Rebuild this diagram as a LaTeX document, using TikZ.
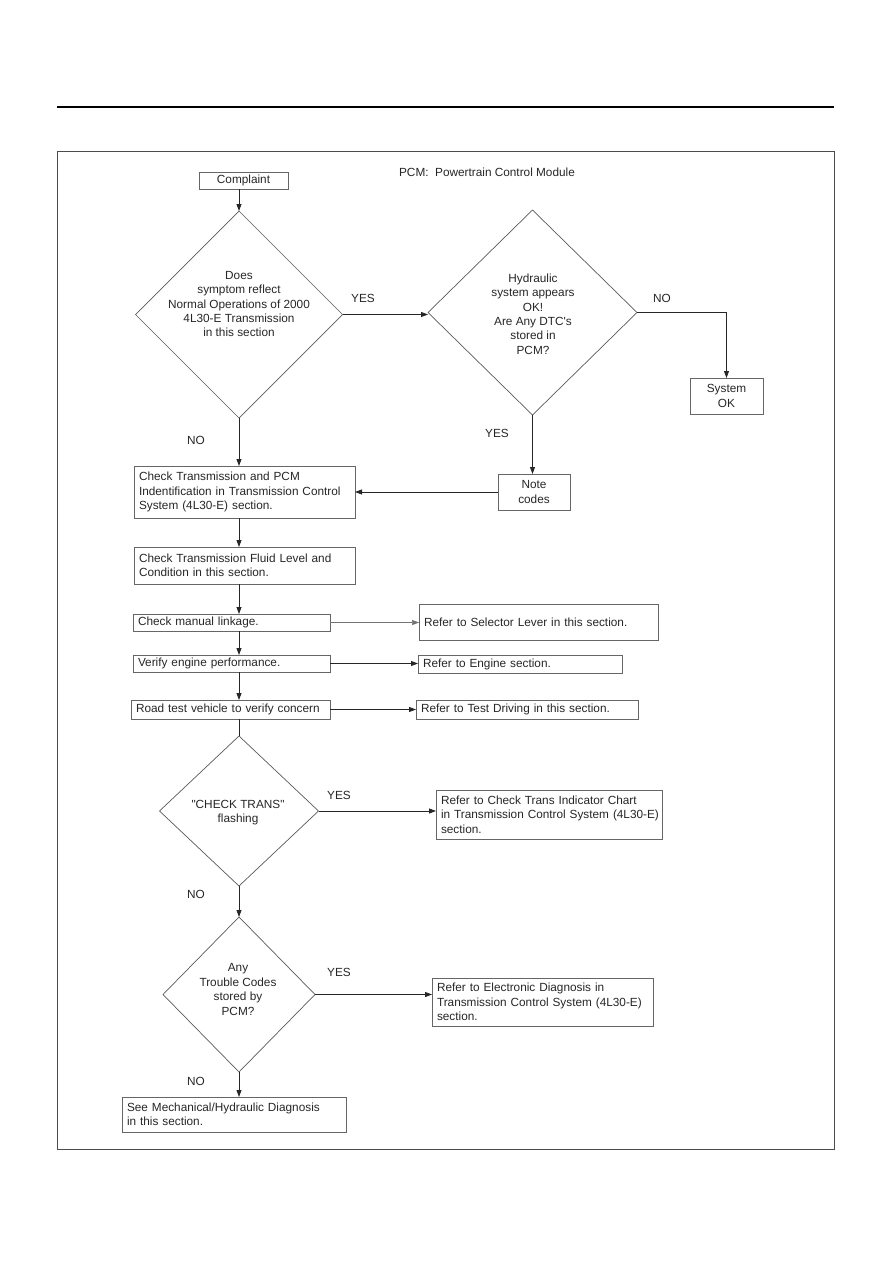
\documentclass[tikz,border=0pt]{standalone}
\usepackage{fontspec}
\setmainfont{Liberation Sans}[Ligatures=TeXOff]
\usetikzlibrary{shapes.geometric,arrows.meta}
\begin{document}
\begin{tikzpicture}[x=1pt,y=-1pt,
  every node/.style={font=\fontsize{11.8}{14.4}\selectfont, text=black!85},
  box/.style={draw=black!60, line width=0.8pt, rectangle, inner sep=0pt, outer sep=0pt, align=center},
  lbox/.style={draw=black!60, line width=0.8pt, rectangle, inner ysep=0pt, inner xsep=5pt, outer sep=0pt, align=left},
  dia/.style={draw=black!65, line width=0.7pt, diamond, inner sep=0pt, outer sep=0pt},
  arr/.style={draw=black!85, line width=0.8pt, -{Triangle[length=7pt,width=5pt]}},
  ln/.style={draw=black!85, line width=0.8pt},
  lbl/.style={inner sep=0pt}]
\useasboundingbox (0,0) rectangle (893,1263);
\draw[line width=2pt] (57,107) -- (834,107);
\draw[black!70, line width=0.9pt] (57,151) rectangle (834,1149);

\node[box, minimum width=89, minimum height=17] (comp) at (243.5,180.5) {Complaint};
\node[lbl] (pcm) at (487,172) {PCM:\ \ Powertrain Control Module};

\node[dia, minimum width=207, minimum height=207] (d1) at (239,314.5) {};
\node[align=center, inner sep=0pt] (t1) at (239,304) {Does\\symptom reflect\\Normal Operations of 2000\\4L30-E Transmission\\in this section};

\node[dia, minimum width=209, minimum height=205] (d2) at (532.5,312.5) {};
\node[align=center, inner sep=0pt] (t2) at (533,314) {Hydraulic\\system appears\\OK!\\Are Any DTC's\\stored in\\PCM?};

\node[lbl] (y1) at (363,298) {YES};
\node[lbl] (n1) at (662,298) {NO};
\node[box, minimum width=73, minimum height=36] (sysok) at (726.5,396) {System\\OK};
\node[lbl] (n2) at (196,440) {NO};
\node[lbl] (y2) at (497,433) {YES};
\node[box, minimum width=72, minimum height=36] (note) at (534,492) {Note\\codes};

\node[lbox, text width=211, minimum height=52] (b1) at (244.5,492) {\mbox{Check Transmission and PCM}\\\mbox{Indentification in Transmission Control}\\\mbox{System (4L30-E) section.}};
\node[lbox, text width=211, minimum height=37] (b2) at (244.5,565.5) {\mbox{Check Transmission Fluid Level and}\\\mbox{Condition in this section.}};
\node[lbox, text width=187, minimum height=17] (b3) at (231.5,622.5) {\mbox{Check manual linkage.}};
\node[lbox, text width=229, minimum height=36] (sel) at (538.5,622) {\mbox{Refer to Selector Lever in this section.}};
\node[lbox, text width=187, minimum height=17] (b4) at (231.5,663.5) {\mbox{Verify engine performance.}};
\node[lbox, text width=194, minimum height=18] (eng) at (520,664) {\mbox{Refer to Engine section.}};
\node[lbox, text width=189, minimum height=19] (b5) at (230.5,709.5) {\mbox{Road test vehicle to verify concern}};
\node[lbox, text width=212, minimum height=19] (td) at (527,709.5) {\mbox{Refer to Test Driving in this section.}};

\node[dia, minimum width=159, minimum height=150] (d3) at (239,811) {};
\node[align=center, inner sep=0pt] (t3) at (238,812.5) {"CHECK TRANS"\\flashing};
\node[lbl] (y3) at (339,795) {YES};
\node[lbox, text width=216, minimum height=49] (ct) at (549,814.5) {\mbox{Refer to Check Trans Indicator Chart}\\\mbox{in Transmission Control System (4L30-E)}\\\mbox{section.}};
\node[lbl] (n3) at (196,894) {NO};

\node[dia, minimum width=152, minimum height=155] (d4) at (239,994.5) {};
\node[align=center, inner sep=0pt] (t4) at (238,989.5) {Any\\Trouble Codes\\stored by\\PCM?};
\node[lbl] (y4) at (339,972) {YES};
\node[lbox, text width=211, minimum height=48] (ed) at (542.5,1002) {\mbox{Refer to Electronic Diagnosis in}\\\mbox{Transmission Control System (4L30-E)}\\\mbox{section.}};
\node[lbl] (n4) at (196,1081) {NO};
\node[lbox, text width=214, minimum height=35] (mh) at (234,1114.5) {\mbox{See Mechanical/Hydraulic Diagnosis}\\\mbox{in this section.}};

\draw[arr] (comp.south -| d1.north) -- (d1.north);
\draw[arr] (d1.east) -- (d1.east -| d2.west);
\draw[arr] (d2.east) -| (sysok.north);
\draw[arr] (d1.south) -- (b1.north -| d1.south);
\draw[arr] (d2.south) -- (note.north -| d2.south);
\draw[arr] (note.west) -- (b1.east);
\draw[arr] (b1.south -| d1.south) -- (b2.north -| d1.south);
\draw[arr] (b2.south -| d1.south) -- (b3.north -| d1.south);
\draw[arr, draw=black!55, line width=0.6pt] (b3.east) -- (b3.east -| sel.west);
\draw[arr] (b3.south -| d1.south) -- (b4.north -| d1.south);
\draw[arr] (b4.east) -- (b4.east -| eng.west);
\draw[arr] (b4.south -| d1.south) -- (b5.north -| d1.south);
\draw[arr] (b5.east) -- (b5.east -| td.west);
\draw[ln] (b5.south -| d3.north) -- (d3.north);
\draw[arr] (d3.east) -- (d3.east -| ct.west);
\draw[arr] (d3.south) -- (d4.north);
\draw[arr] (d4.east) -- (d4.east -| ed.west);
\draw[arr] (d4.south) -- (mh.north -| d4.south);
\end{tikzpicture}
\end{document}
